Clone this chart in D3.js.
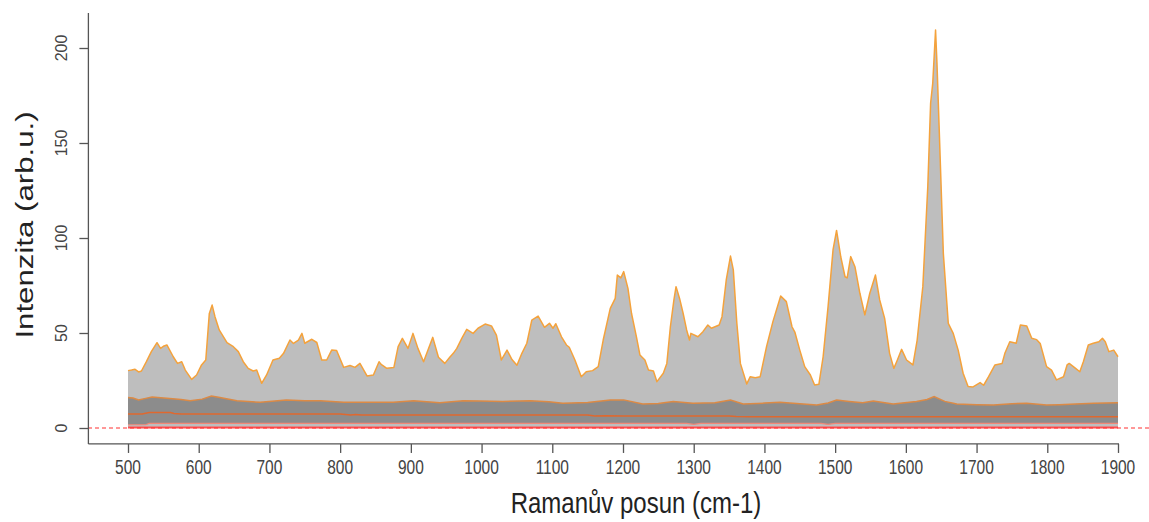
<!DOCTYPE html>
<html>
<head>
<meta charset="utf-8">
<script src="https://cdn.jsdelivr.net/npm/d3@7"></script>
<style>
  html, body { margin: 0; padding: 0; background: #fff; }
  svg { display: block; font-family: "Liberation Sans", Arial, sans-serif; }
</style>
</head>
<body>
<svg id="chart" width="1149" height="522"></svg>
<script>
// Raman shift (cm-1) and the maximum intensity envelope of the spectra set
const shiftMax = [500,505,510,515,519,526,533,541,546,550,555,564,570,576,581,590,597,604,610,615,619,623,629,640,649,656,663,670,677,682,689,696,705,714,720,729,734,741,746,750,760,767,774,781,788,795,805,814,821,828,838,847,855,858,866,876,882,888,896,903,910,918,925,931,939,948,955,960,965,972,979,988,995,1005,1014,1021,1028,1036,1043,1050,1057,1064,1071,1080,1089,1096,1101,1105,1113,1120,1124,1132,1141,1148,1157,1165,1172,1182,1189,1192,1197,1201,1207,1212,1219,1224,1231,1236,1243,1248,1257,1262,1267,1272,1275,1280,1285,1290,1294,1296,1306,1313,1320,1325,1336,1340,1346,1352,1356,1361,1366,1375,1380,1387,1394,1403,1412,1423,1431,1439,1443,1450,1457,1465,1471,1477,1483,1490,1497,1502,1508,1514,1517,1522,1528,1535,1542,1549,1557,1563,1570,1577,1583,1588,1594,1601,1610,1616,1624,1631,1635,1638,1642,1644,1648,1653,1660,1667,1674,1681,1688,1695,1705,1710,1717,1726,1736,1740,1747,1756,1762,1771,1778,1785,1790,1799,1806,1813,1823,1828,1831,1840,1846,1851,1858,1865,1873,1878,1882,1887,1894,1900];
const intensityMax = [30.2,30.5,30.9,29.5,30.0,34.9,40.2,44.9,41.9,43.0,43.7,37.5,34.0,34.9,30.5,25.6,27.9,33.2,35.8,60.3,64.7,58.6,51.6,44.9,42.8,40.2,34.9,31.4,30.0,30.5,23.5,27.9,35.8,36.7,39.3,46.3,44.5,46.3,49.8,44.6,46.7,45.0,35.8,35.8,41.0,40.8,31.9,32.9,31.9,34.0,27.4,27.9,34.9,33.5,31.4,31.9,42.8,47.2,41.9,49.8,41.9,34.9,41.9,47.7,37.2,34.0,37.2,39.3,41.9,47.2,51.9,49.8,52.5,54.7,53.7,48.9,35.8,41.0,36.0,33.0,39.3,44.6,56.8,58.9,53.0,55.1,52.5,54.9,48.0,43.7,42.5,35.8,27.0,29.6,30.2,32.3,46.3,63.0,68.2,80.5,79.0,82.3,73.5,60.4,48.0,38.4,35.8,30.5,30.0,24.4,28.8,34.0,53.3,67.4,74.4,68.2,60.4,51.6,46.3,49.8,48.0,50.7,54.2,52.5,54.2,58.6,77.9,90.5,83.2,55.1,34.0,23.2,27.0,26.5,27.0,42.8,56.0,69.5,66.5,53.3,50.5,41.0,32.3,27.9,22.6,23.0,37.5,63.9,93.7,104.0,90.0,79.6,79.0,90.2,84.9,70.9,59.5,70.9,80.5,67.4,57.7,39.3,31.4,35.8,41.4,35.8,33.2,46.3,74.4,127.0,170.9,181.4,209.5,191.9,148.0,91.9,55.1,49.8,41.0,28.8,21.8,21.6,23.9,22.5,27.0,33.2,33.9,39.3,45.4,44.6,54.2,53.7,47.2,46.5,44.5,32.3,30.5,25.3,27.0,33.2,34.0,31.4,29.6,34.9,43.7,44.6,45.4,47.2,45.4,40.2,41.0,37.5];

// Upper quantile of the spectra set
const shiftUpper = [500,507,515,525,534,559,575,588,605,618,630,654,687,724,750,772,805,840,875,904,941,974,998,1030,1069,1095,1115,1150,1182,1201,1228,1250,1271,1299,1330,1352,1370,1400,1422,1450,1474,1490,1502,1520,1539,1554,1582,1615,1630,1640,1655,1672,1700,1724,1750,1771,1799,1817,1840,1866,1900];
const intensityUpper = [16.0,15.8,14.7,15.6,16.3,15.5,15.0,14.4,15.2,16.8,16.0,14.4,13.5,14.7,14.4,14.4,13.5,13.6,13.5,14.4,13.3,14.4,14.2,14.0,14.4,13.8,13.0,13.4,14.7,14.8,12.6,12.9,14.0,13.0,13.3,14.7,12.6,13.1,13.5,12.8,12.1,13.2,14.7,14.0,13.3,14.2,12.6,14.0,15.0,16.5,14.0,12.6,12.3,12.1,12.8,13.0,12.1,12.3,12.6,13.0,13.3];

// Median spectrum
const shiftMedian = [500,520,530,560,565,575,800,815,822,830,1150,1160,1175,1200,1350,1360,1380,1900];
const intensityMedian = [7.4,7.4,8.1,8.2,7.6,7.4,7.4,6.9,7.1,6.8,6.8,6.3,6.4,6.3,6.3,6.0,5.9,5.9];

// Lower quantile and minimum
const shiftLower = [500,525,530,1000,1290,1300,1310,1480,1490,1500,1600,1900];
const intensityLower = [1.7,1.7,2.4,2.4,2.4,1.9,2.4,2.4,1.9,2.4,2.4,2.4];
const shiftMin = [500,1900];
const intensityMin = [0.3,0.3];

const xTicks = [500,600,700,800,900,1000,1100,1200,1300,1400,1500,1600,1700,1800,1900];
const yTicks = [0,50,100,150,200];

const svg = d3.select("#chart");

const x = d3.scaleLinear().domain([500, 1900]).range([128, 1118]);
const y = d3.scaleLinear().domain([0, 200]).range([428, 48]);

const pts = (xs, ys) => xs.map((s, i) => [s, ys[i]]);
const interp = (xs, ys) => s => {
  const i = d3.bisectLeft(xs, s);
  if (i <= 0) return ys[0];
  if (i >= xs.length) return ys[ys.length - 1];
  const t = (s - xs[i - 1]) / (xs[i] - xs[i - 1]);
  return ys[i - 1] + t * (ys[i] - ys[i - 1]);
};

const maxPts = pts(shiftMax, intensityMax);
const upperPts = pts(shiftUpper, intensityUpper);
const lowerAt = interp(shiftLower, intensityLower);
const minAt = interp(shiftMin, intensityMin);

// Light envelope: minimum to maximum
const envArea = d3.area()
  .x(d => x(d[0]))
  .y0(d => y(minAt(d[0])))
  .y1(d => y(d[1]));
svg.append("path").datum(maxPts)
  .attr("d", envArea).attr("fill", "#bebebe");

// Dark band: lower to upper quantile
const allShift = Array.from(new Set(shiftUpper.concat(shiftLower))).sort((a, b) => a - b);
const upperAt = interp(shiftUpper, intensityUpper);
const bandArea = d3.area()
  .x(d => x(d))
  .y0(d => y(lowerAt(d)))
  .y1(d => y(upperAt(d)));
svg.append("path").datum(allShift)
  .attr("d", bandArea).attr("fill", "#8c8c8c");

const line = d3.line().x(d => x(d[0])).y(d => y(d[1]));

svg.append("path").datum(pts(shiftLower, intensityLower))
  .attr("d", line).attr("fill", "none").attr("stroke", "#f08878").attr("stroke-width", 1.2);
svg.append("path").datum(pts(shiftMin, intensityMin))
  .attr("d", line).attr("fill", "none").attr("stroke", "#ff5050").attr("stroke-width", 2);
svg.append("path").datum(pts(shiftMedian, intensityMedian))
  .attr("d", line).attr("fill", "none").attr("stroke", "#e0682e").attr("stroke-width", 1.5);
svg.append("path").datum(upperPts)
  .attr("d", line).attr("fill", "none").attr("stroke", "#dc8a45").attr("stroke-width", 1.5);
svg.append("path").datum(maxPts)
  .attr("d", line).attr("fill", "none").attr("stroke", "#f4a23c").attr("stroke-width", 1.5)
  .attr("stroke-linejoin", "round");

// Zero reference line
svg.append("line")
  .attr("x1", x.range()[0] - 40).attr("x2", 1149)
  .attr("y1", y(0)).attr("y2", y(0))
  .attr("stroke", "#ff3030").attr("stroke-width", 1)
  .attr("stroke-dasharray", "4,3");

// Axes
const axisColor = "#555";
const yTop = y(218.4), yBottom = y(-8.4);
const xLeft = x(444);
svg.append("line").attr("x1", xLeft).attr("x2", xLeft)
  .attr("y1", yTop).attr("y2", yBottom)
  .attr("stroke", axisColor).attr("stroke-width", 1.3);
svg.append("line").attr("x1", xLeft).attr("x2", x(1900) + 1)
  .attr("y1", yBottom).attr("y2", yBottom)
  .attr("stroke", axisColor).attr("stroke-width", 1.3);

const xAxis = d3.axisBottom(x).tickValues(xTicks).tickSize(9).tickFormat(() => "");
const gx = svg.append("g").attr("transform", `translate(0,${yBottom})`).call(xAxis);
gx.select(".domain").remove();
gx.selectAll(".tick line").attr("stroke", axisColor).attr("stroke-width", 1.3);

const yAxis = d3.axisLeft(y).tickValues(yTicks).tickSize(9).tickFormat(() => "");
const gy = svg.append("g").attr("transform", `translate(${xLeft},0)`).call(yAxis);
gy.select(".domain").remove();
gy.selectAll(".tick line").attr("stroke", axisColor).attr("stroke-width", 1.3);

// Tick labels
svg.append("g").selectAll("text").data(xTicks).join("text")
  .attr("transform", d => `translate(${x(d)},474) scale(1,1.25)`)
  .attr("text-anchor", "middle")
  .attr("font-size", 15.5).attr("fill", "#444")
  .text(d => d);

svg.append("g").selectAll("text").data(yTicks).join("text")
  .attr("transform", d => `translate(67,${y(d)}) rotate(-90)`)
  .attr("text-anchor", "middle")
  .attr("font-size", 16).attr("fill", "#444")
  .text(d => d);

// Axis titles
svg.append("text")
  .attr("transform", "translate(636,513) scale(1,1.22)")
  .attr("text-anchor", "middle")
  .attr("font-size", 24).attr("fill", "#222")
  .text("Ramanův posun (cm-1)");

svg.append("text")
  .attr("transform", "translate(33,225) rotate(-90) scale(1.3,1)")
  .attr("text-anchor", "middle")
  .attr("font-size", 24).attr("fill", "#222")
  .text("Intenzita (arb.u.)");
</script>
</body>
</html>
